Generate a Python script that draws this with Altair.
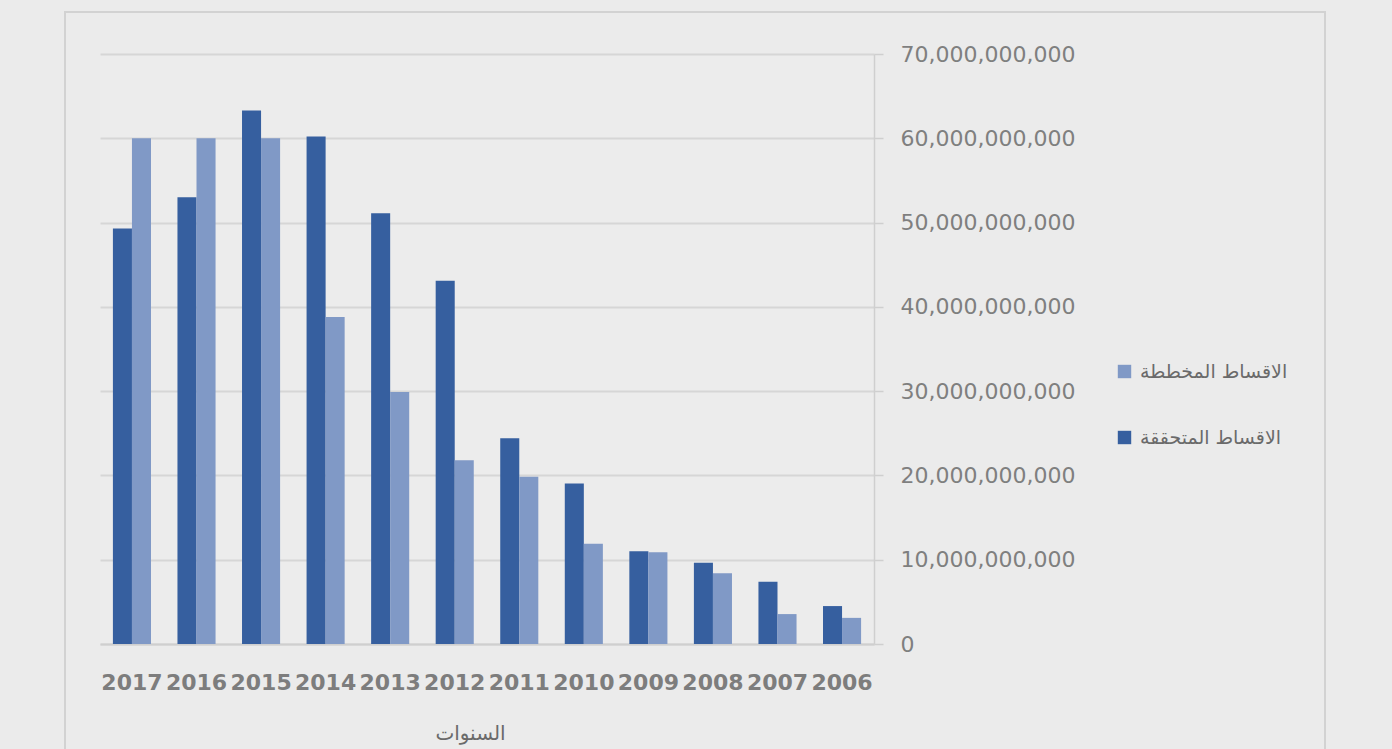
import altair as alt
import pandas as pd

years = ["2017", "2016", "2015", "2014", "2013", "2012", "2011", "2010", "2009", "2008", "2007", "2006"]
achieved = [49.3e9, 53.0e9, 63.3e9, 60.2e9, 51.1e9, 43.1e9, 24.4e9, 19.05e9, 11.0e9, 9.65e9, 7.4e9, 4.5e9]
planned = [60.0e9, 60.0e9, 60.0e9, 38.8e9, 29.9e9, 21.8e9, 19.85e9, 11.9e9, 10.9e9, 8.4e9, 3.55e9, 3.1e9]

s_planned = "الاقساط المخططة"
s_achieved = "الاقساط المتحققة"

rows = []
for y, a, p in zip(years, achieved, planned):
    rows.append({"year": y, "series": s_achieved, "value": a})
    rows.append({"year": y, "series": s_planned, "value": p})
df = pd.DataFrame(rows)

bars = alt.Chart(df).mark_bar().encode(
    x=alt.X("year:N", sort=years,
            scale=alt.Scale(paddingInner=0.41, paddingOuter=0.2),
            axis=alt.Axis(title="السنوات", labelAngle=0, ticks=False, grid=False,
                          domainColor="#cfcfcf", domainWidth=2,
                          labelFont="DejaVu Sans", labelFontSize=22, labelFontWeight="bold",
                          labelColor="#7d7d7d", labelPadding=28,
                          titleFont="DejaVu Sans", titleFontSize=20, titleFontWeight="normal",
                          titleColor="#6a6a6a", titlePadding=30, titleX=370)),
    xOffset=alt.XOffset("series:N", sort=[s_achieved, s_planned]),
    y=alt.Y("value:Q", scale=alt.Scale(domain=[0, 70e9]),
            axis=alt.Axis(orient="right", title=None, format=",.0f", values=[i * 10e9 for i in range(8)],
                          tickSize=9, tickColor="#cfcfcf", tickWidth=1.5,
                          domainColor="#cfcfcf", domainWidth=1.5,
                          gridColor="#d6d6d6", gridWidth=2,
                          labelFont="DejaVu Sans", labelFontSize=22, labelColor="#7f7f7f",
                          labelPadding=17)),
    color=alt.Color("series:N",
                    scale=alt.Scale(domain=[s_planned, s_achieved], range=["#8099c6", "#365f9f"]),
                    legend=alt.Legend(title=None, orient="none", legendX=1015, legendY=308,
                                      symbolType="square", symbolSize=180, symbolStrokeWidth=0,
                                      labelFont="DejaVu Sans", labelFontSize=19, labelColor="#6a6a6a",
                                      rowPadding=46, labelOffset=6)),
)

frame = alt.Chart(pd.DataFrame({"k": [0]})).mark_rect(
    fill=None, stroke="#d2d2d2", strokeWidth=2
).encode(
    x=alt.value(-35), x2=alt.value(1225), y=alt.value(-42), y2=alt.value(712)
)

chart = alt.layer(frame, bars).properties(
    width=774, height=590,
    autosize=alt.AutoSizeParams(type="none"),
    padding={"left": 100, "top": 54, "right": 518, "bottom": 105},
    background="#ebebeb",
).configure_view(stroke=None, fill="#ececec")

chart.save("out.html", embed_options={"renderer": "svg", "actions": False})
